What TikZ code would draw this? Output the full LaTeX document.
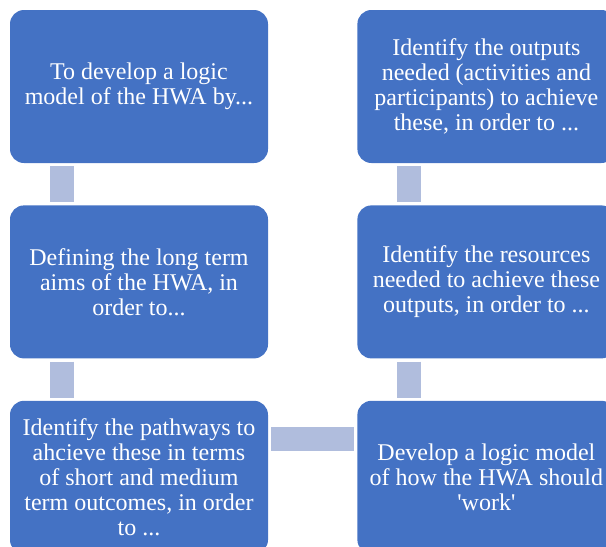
\documentclass[tikz,border=0pt]{standalone}
\usepackage{fontspec}
\setmainfont{Liberation Serif}[Ligatures=TeXOff]
\usetikzlibrary{positioning}
\definecolor{stageblue}{HTML}{4472C4}
\definecolor{linkblue}{HTML}{B0BDDD}

\begin{document}
\begin{tikzpicture}[x=1pt,y=1pt,
    stage/.style={rectangle,rounded corners=14pt,fill=stageblue,text=white,
      minimum width=258pt,minimum height=153pt,inner sep=0pt,align=center,
      font=\fontsize{24}{25}\selectfont},
    link/.style={draw=linkblue,line width=24pt,shorten <=3pt,shorten >=3pt},
    node distance=42pt and 89pt]
  \useasboundingbox (0,0) rectangle (606,-547);
  \clip (0,0) rectangle (606,-547);

  % left column, top to bottom
  \node[stage] (aim) at (139,-86.5) {To develop a logic\\model of the HWA by...};
  \node[stage,below=of aim] (longterm) {Defining the long term\\aims of the HWA, in\\order to...};
  \node[stage,below=of longterm] (pathways) {Identify the pathways to\\ahcieve these in terms\\of short and medium\\term outcomes, in order\\to ...};

  % right column, bottom to top
  \node[stage,right=of pathways] (model) {Develop a logic model\\of how the HWA should\\'work'};
  \node[stage,above=of model] (resources) {Identify the resources\\needed to achieve these\\outputs, in order to ...};
  \node[stage,above=of resources] (outputs) {Identify the outputs\\needed (activities and\\participants) to achieve\\these, in order to ...};

  % bars between the boxes
  \draw[link] ([xshift=52pt]aim.south west) -- ([xshift=52pt]longterm.north west);
  \draw[link] ([xshift=52pt]longterm.south west) -- ([xshift=52pt]pathways.north west);
  \draw[link] ([yshift=-38pt]pathways.north east) -- ([yshift=-38pt]model.north west);
  \draw[link] ([xshift=52pt]outputs.south west) -- ([xshift=52pt]resources.north west);
  \draw[link] ([xshift=52pt]resources.south west) -- ([xshift=52pt]model.north west);
\end{tikzpicture}
\end{document}
